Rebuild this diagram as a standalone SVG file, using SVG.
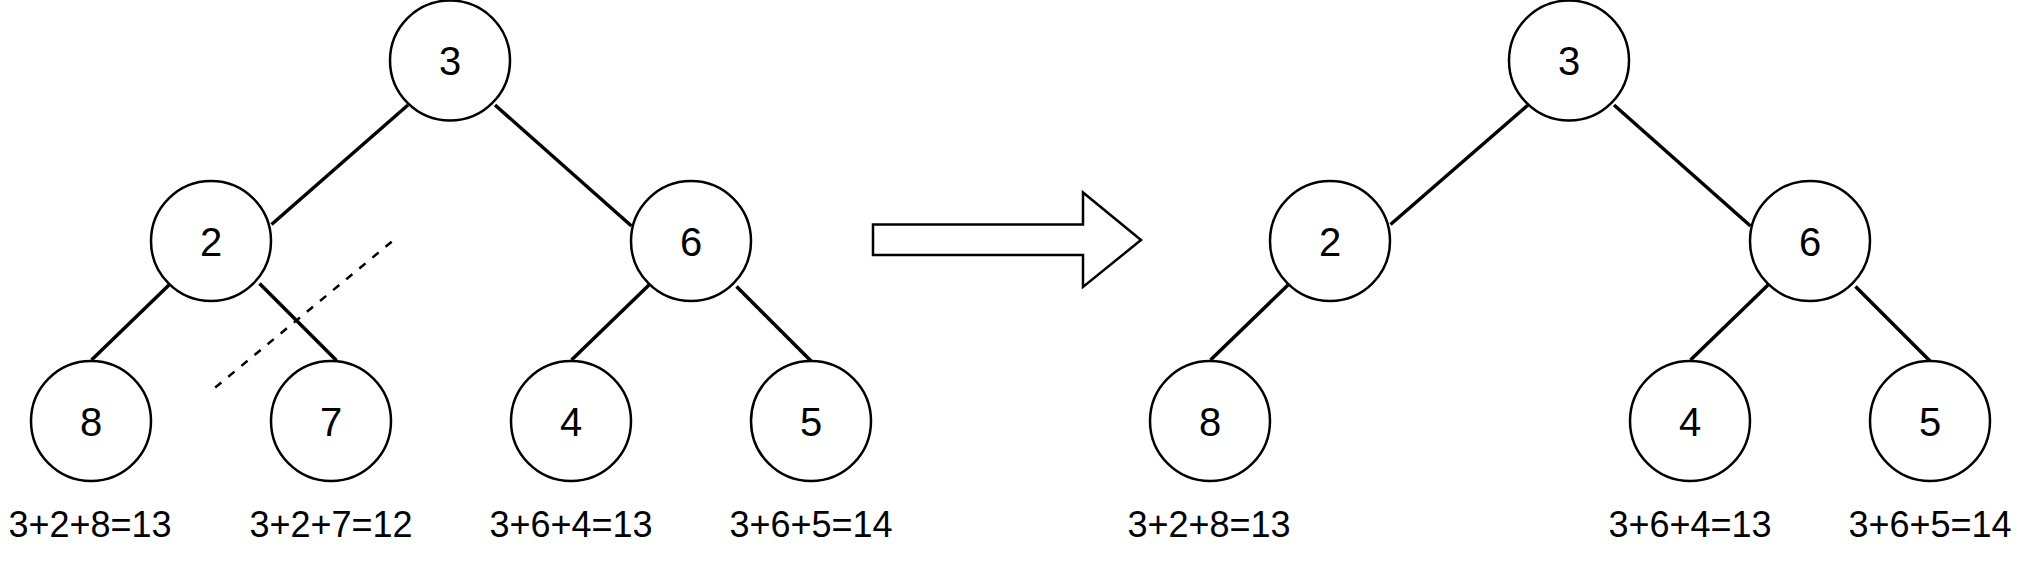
<svg xmlns="http://www.w3.org/2000/svg" width="2019" height="573" viewBox="0 0 2019 573">
<style>
.node circle{fill:#fff;stroke:#000;stroke-width:2.5}
.node text{font-family:"Liberation Sans",Arial,Helvetica,sans-serif;font-size:40px;fill:#000;text-anchor:middle}
.lbl{font-family:"Liberation Sans",Arial,Helvetica,sans-serif;font-size:36px;fill:#000;text-anchor:middle}
.edge{stroke:#000;stroke-width:3.5;fill:none}
.dash{stroke:#000;stroke-width:2.5;fill:none;stroke-dasharray:8 9}
.arrow{fill:#fff;stroke:#000;stroke-width:2.5;stroke-linejoin:miter}
</style>
<rect width="2019" height="573" fill="#fff"/>
<g id="connectors">
<line class="edge" x1="408" y1="105" x2="271.5" y2="224.5"/>
<line class="edge" x1="495" y1="105" x2="631.5" y2="226"/>
<line class="edge" x1="169" y1="285" x2="91.5" y2="360"/>
<line class="edge" x1="259.5" y1="283.5" x2="336.5" y2="360.5"/>
<line class="edge" x1="649" y1="285" x2="571.5" y2="360"/>
<line class="edge" x1="736.5" y1="286.5" x2="813" y2="363"/>
<line class="dash" x1="391.7" y1="241.7" x2="211" y2="391"/>
<line class="edge" x1="1528" y1="105" x2="1390.5" y2="224.5"/>
<line class="edge" x1="1614" y1="105" x2="1750.5" y2="226"/>
<line class="edge" x1="1288" y1="285" x2="1210.5" y2="360"/>
<line class="edge" x1="1768" y1="285" x2="1690.5" y2="360"/>
<line class="edge" x1="1855.5" y1="286.5" x2="1932" y2="363"/>
</g>
<g id="arrow"><polygon class="arrow" points="873,224.5 1083,224.5 1083,192.5 1141,240 1083,287 1083,255 873,255"/></g>
<g id="L3" class="node"><circle cx="450" cy="60.5" r="60"/><text x="450" y="75">3</text></g>
<g id="L2" class="node"><circle cx="211" cy="241" r="60"/><text x="211" y="255.5">2</text></g>
<g id="L6" class="node"><circle cx="691" cy="241" r="60"/><text x="691" y="255.5">6</text></g>
<g id="L8" class="node"><circle cx="91" cy="421" r="60"/><text x="91" y="435.5">8</text></g>
<g id="L7" class="node"><circle cx="331" cy="421" r="60"/><text x="331" y="435.5">7</text></g>
<g id="L4" class="node"><circle cx="571" cy="421" r="60"/><text x="571" y="435.5">4</text></g>
<g id="L5" class="node"><circle cx="811" cy="421" r="60"/><text x="811" y="435.5">5</text></g>
<g id="R3" class="node"><circle cx="1569" cy="60.5" r="60"/><text x="1569" y="75">3</text></g>
<g id="R2" class="node"><circle cx="1330" cy="241" r="60"/><text x="1330" y="255.5">2</text></g>
<g id="R6" class="node"><circle cx="1810" cy="241" r="60"/><text x="1810" y="255.5">6</text></g>
<g id="R8" class="node"><circle cx="1210" cy="421" r="60"/><text x="1210" y="435.5">8</text></g>
<g id="R4" class="node"><circle cx="1690" cy="421" r="60"/><text x="1690" y="435.5">4</text></g>
<g id="R5" class="node"><circle cx="1930" cy="421" r="60"/><text x="1930" y="435.5">5</text></g>
<g id="labels">
<text class="lbl" x="90" y="537">3+2+8=13</text>
<text class="lbl" x="331" y="537">3+2+7=12</text>
<text class="lbl" x="571" y="537">3+6+4=13</text>
<text class="lbl" x="811" y="537">3+6+5=14</text>
<text class="lbl" x="1209" y="537">3+2+8=13</text>
<text class="lbl" x="1690" y="537">3+6+4=13</text>
<text class="lbl" x="1930" y="537">3+6+5=14</text>
</g>
</svg>
